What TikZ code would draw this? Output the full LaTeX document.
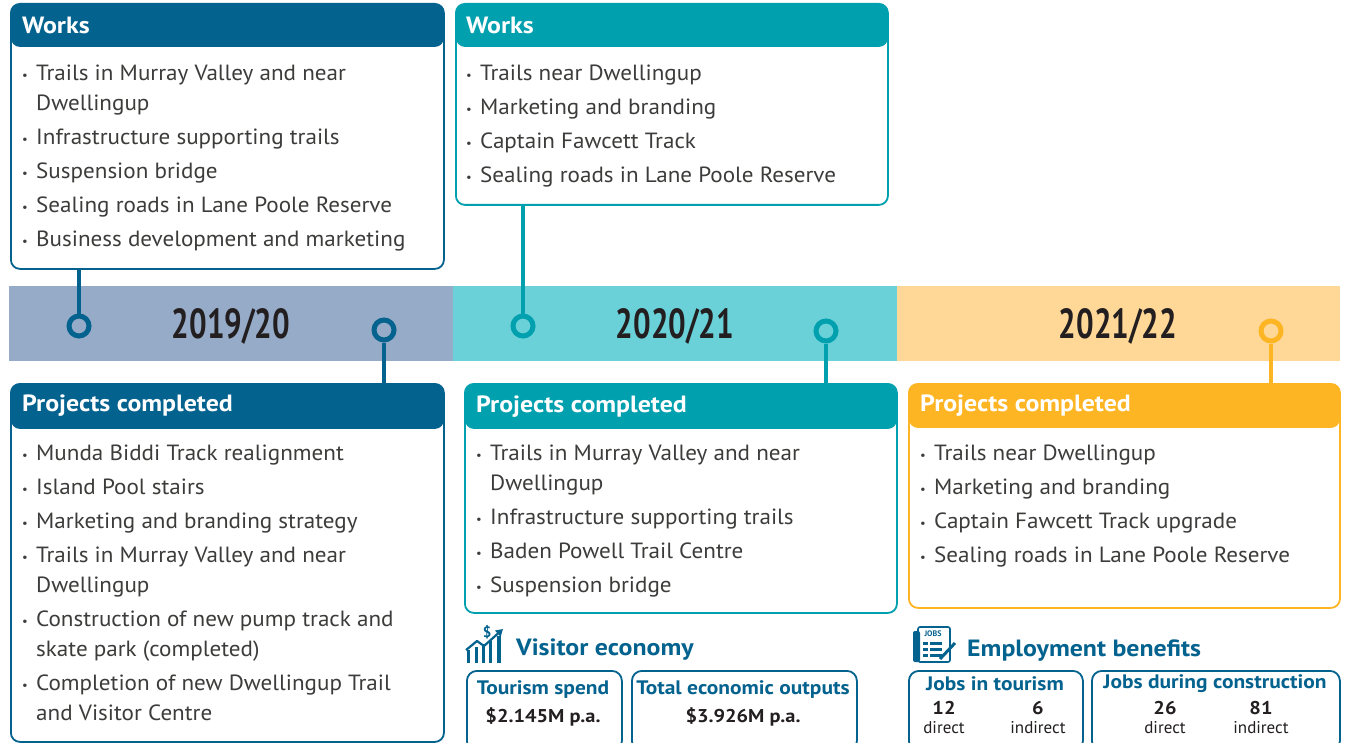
\documentclass[tikz,border=0pt]{standalone}
\usetikzlibrary{arrows.meta}
\usepackage{fontspec}
\setmainfont{PT Sans}
\newfontfamily\yearfont[FakeStretch=0.74]{PT Sans}
\newfontfamily\wfont[FakeStretch=1.1]{PT Sans}
\newfontfamily\lfont[FakeStretch=1.05]{PT Sans}
\definecolor{cA}{HTML}{04628F}
\definecolor{cB}{HTML}{00A0AF}
\definecolor{cC}{HTML}{FDB524}
\definecolor{bA}{HTML}{95ABC8}
\definecolor{bB}{HTML}{6BD1D8}
\definecolor{bC}{HTML}{FFD898}
\definecolor{txt}{HTML}{3C3C3B}
\definecolor{dark}{HTML}{231F20}
\newcommand\bl{\makebox[14pt][l]{\raisebox{0.15ex}{\fontsize{12}{12}\selectfont •}}}
\newcommand\ind{\hspace*{14pt}}
\tikzset{
  tlbox/.style 2 args={draw=#1, line width=1.8pt, rounded corners=9pt, fill=white,
    inner sep=0pt, anchor=north west,
    path picture={\fill[#1] (path picture bounding box.north west) rectangle
      ([yshift=-#2]path picture bounding box.north east);}},
  hdrtext/.style={anchor=west, inner sep=0pt, text=white, font=\wfont\bfseries\fontsize{23.5}{26}\selectfont},
  listtext/.style={anchor=north west, inner sep=0pt, align=left, text=txt,
    font=\lfont\fontsize{22}{30}\selectfont},
  band/.style={inner sep=0pt, anchor=north west, minimum height=75pt, minimum width=444pt},
  year/.style={inner sep=0pt, text=dark, font=\yearfont\bfseries\fontsize{42}{42}\selectfont},
  ring/.style={circle, draw=#1, line width=5pt, fill=none, minimum size=20pt, inner sep=0pt},
  conn/.style={draw=#1, line width=4pt},
  statbox/.style={draw=cA, line width=1.8pt, rounded corners=10pt, inner sep=0pt, anchor=north west},
  statlabel/.style={inner sep=0pt, text=cA, font=\wfont\bfseries\fontsize{19.5}{20}\selectfont},
  statval/.style={inner sep=0pt, text=dark, font=\wfont\bfseries\fontsize{18.5}{20}\selectfont},
  statsub/.style={inner sep=0pt, text=dark, font=\fontsize{17}{20}\selectfont},
  sechead/.style={anchor=west, inner sep=0pt, text=cA, font=\wfont\bfseries\fontsize{23.5}{26}\selectfont},
}
\begin{document}
\begin{tikzpicture}[x=1pt,y=-1pt]
\useasboundingbox (0,0) rectangle (1348,743);
\fill[white] (0,0) rectangle (1348,743);

% timeline band
\node[band, fill=bA] (bandA) at (9,286) {};
\node[band, fill=bB] (bandB) at (453,286) {};
\node[band, fill=bC, minimum width=443pt] (bandC) at (897,286) {};
\node[year] (yA) at (231,326) {2019/20};
\node[year] (yB) at (675,326) {2020/21};
\node[year] (yC) at (1118,326) {2021/22};

% rings
\node[ring=cA] (rA1) at (79,326) {};
\node[ring=cA] (rA2) at (384,330) {};
\node[ring=cB] (rB1) at (523,326) {};
\node[ring=cB] (rB2) at (826,331) {};
\node[ring=cC] (rC1) at (1271,331) {};

% Works 2019/20
\node[tlbox={cA}{43pt}, minimum width=433pt, minimum height=265pt] (wA) at (10,3) {};
\node[hdrtext] (wAh) at (22,25) {Works};
\node[listtext] (wAl) at (22,65) {\bl Trails in Murray Valley and near\\ \ind Dwellingup\\[4pt]
 \bl Infrastructure supporting trails\\[4pt]
 \bl Suspension bridge\\[4pt]
 \bl Sealing roads in Lane Poole Reserve\\[4pt]
 \bl Business development and marketing};

% Works 2020/21
\node[tlbox={cB}{43pt}, minimum width=432pt, minimum height=201pt] (wB) at (455,3) {};
\node[hdrtext] (wBh) at (466,25) {Works};
\node[listtext] (wBl) at (466,65) {\bl Trails near Dwellingup\\[4pt]
 \bl Marketing and branding\\[4pt]
 \bl Captain Fawcett Track\\[4pt]
 \bl Sealing roads in Lane Poole Reserve};

% Projects 2019/20
\node[tlbox={cA}{45pt}, minimum width=433pt, minimum height=358pt] (pA) at (10,383) {};
\node[hdrtext] (pAh) at (22,406) {Projects completed};
\node[listtext] (pAl) at (22,445) {\bl Munda Biddi Track realignment\\[4pt]
 \bl Island Pool stairs\\[4pt]
 \bl Marketing and branding strategy\\[4pt]
 \bl Trails in Murray Valley and near\\ \ind Dwellingup\\[4pt]
 \bl Construction of new pump track and\\ \ind skate park (completed)\\[4pt]
 \bl Completion of new Dwellingup Trail\\ \ind and Visitor Centre};

% Projects 2020/21
\node[tlbox={cB}{45pt}, minimum width=432pt, minimum height=229pt] (pB) at (464,383) {};
\node[hdrtext] (pBh) at (476,407) {Projects completed};
\node[listtext] (pBl) at (476,445) {\bl Trails in Murray Valley and near\\ \ind Dwellingup\\[4pt]
 \bl Infrastructure supporting trails\\[4pt]
 \bl Baden Powell Trail Centre\\[4pt]
 \bl Suspension bridge};

% Projects 2021/22
\node[tlbox={cC}{44pt}, minimum width=431pt, minimum height=224pt] (pC) at (908,383) {};
\node[hdrtext] (pCh) at (920,406) {Projects completed};
\node[listtext] (pCl) at (920,445) {\bl Trails near Dwellingup\\[4pt]
 \bl Marketing and branding\\[4pt]
 \bl Captain Fawcett Track upgrade\\[4pt]
 \bl Sealing roads in Lane Poole Reserve};

% connectors
\draw[conn=cA] (rA1.north) -- (rA1.north |- wA.south);
\draw[conn=cA] (rA2.south) -- (rA2.south |- pA.north);
\draw[conn=cB] (rB1.north) -- (rB1.north |- wB.south);
\draw[conn=cB] (rB2.south) -- (rB2.south |- pB.north);
\draw[conn=cC] (rC1.south) -- (rC1.south |- pC.north);

% Visitor economy icon
\begin{scope}[cA]
\fill (467,650) rectangle (470,663);
\fill (475,647) rectangle (478,663);
\fill (482,644) rectangle (485,663);
\fill (489,641) rectangle (492,663);
\fill (497,636) rectangle (501,663);
\draw[line width=2.2pt, line join=round, -{Triangle[length=7pt,width=8pt]}] (466,650) -- (477,641) -- (484,646) -- (503,629);
\node[inner sep=0pt, font=\bfseries\fontsize{15}{15}\selectfont] (dollar) at (487,632) {\$};
\end{scope}
\node[sechead] (veh) at (516,650) {Visitor economy};
\node[statbox, minimum width=155pt, minimum height=80pt] (ts) at (466,670) {};
\node[statlabel] (tsl) at (543,690) {Tourism spend};
\node[statval] (tsv) at (543,717) {\$2.145M p.a.};
\node[statbox, minimum width=225pt, minimum height=80pt] (te) at (631,670) {};
\node[statlabel] (tel) at (743,690) {Total economic outputs};
\node[statval] (tev) at (743,717) {\$3.926M p.a.};

% Employment icon
\begin{scope}[cA]
\fill[rounded corners=2pt] (913,631) rectangle (920,662);
\draw[line width=1.6pt, rounded corners=2pt] (918,627) rectangle (950,662);
\node[inner sep=0pt, font=\bfseries\fontsize{8}{8}\selectfont] (jobsw) at (933,634) {JOBS};
\foreach \yy in {642,648,654}{
  \fill (923,\yy) rectangle (928,\yy+3);
  \fill (930,\yy) rectangle (942,\yy+3);
}
\draw[line width=3pt] (940,659) -- (955,643);
\end{scope}
\node[sechead] (emh) at (967,651) {Employment benefits};
\node[statbox, minimum width=174pt, minimum height=80pt] (jt) at (908,670) {};
\node[statlabel] (jtl) at (995,684) {Jobs in tourism};
\node[statval] (jt1) at (944,708) {12};
\node[statsub] (jt1s) at (944,728) {direct};
\node[statval] (jt2) at (1038,708) {6};
\node[statsub] (jt2s) at (1038,728) {indirect};
\node[statbox, minimum width=248pt, minimum height=80pt] (jc) at (1091,670) {};
\node[statlabel] (jcl) at (1215,684) {Jobs during construction};
\node[statval] (jc1) at (1165,708) {26};
\node[statsub] (jc1s) at (1165,728) {direct};
\node[statval] (jc2) at (1261,708) {81};
\node[statsub] (jc2s) at (1261,728) {indirect};
\end{tikzpicture}
\end{document}
